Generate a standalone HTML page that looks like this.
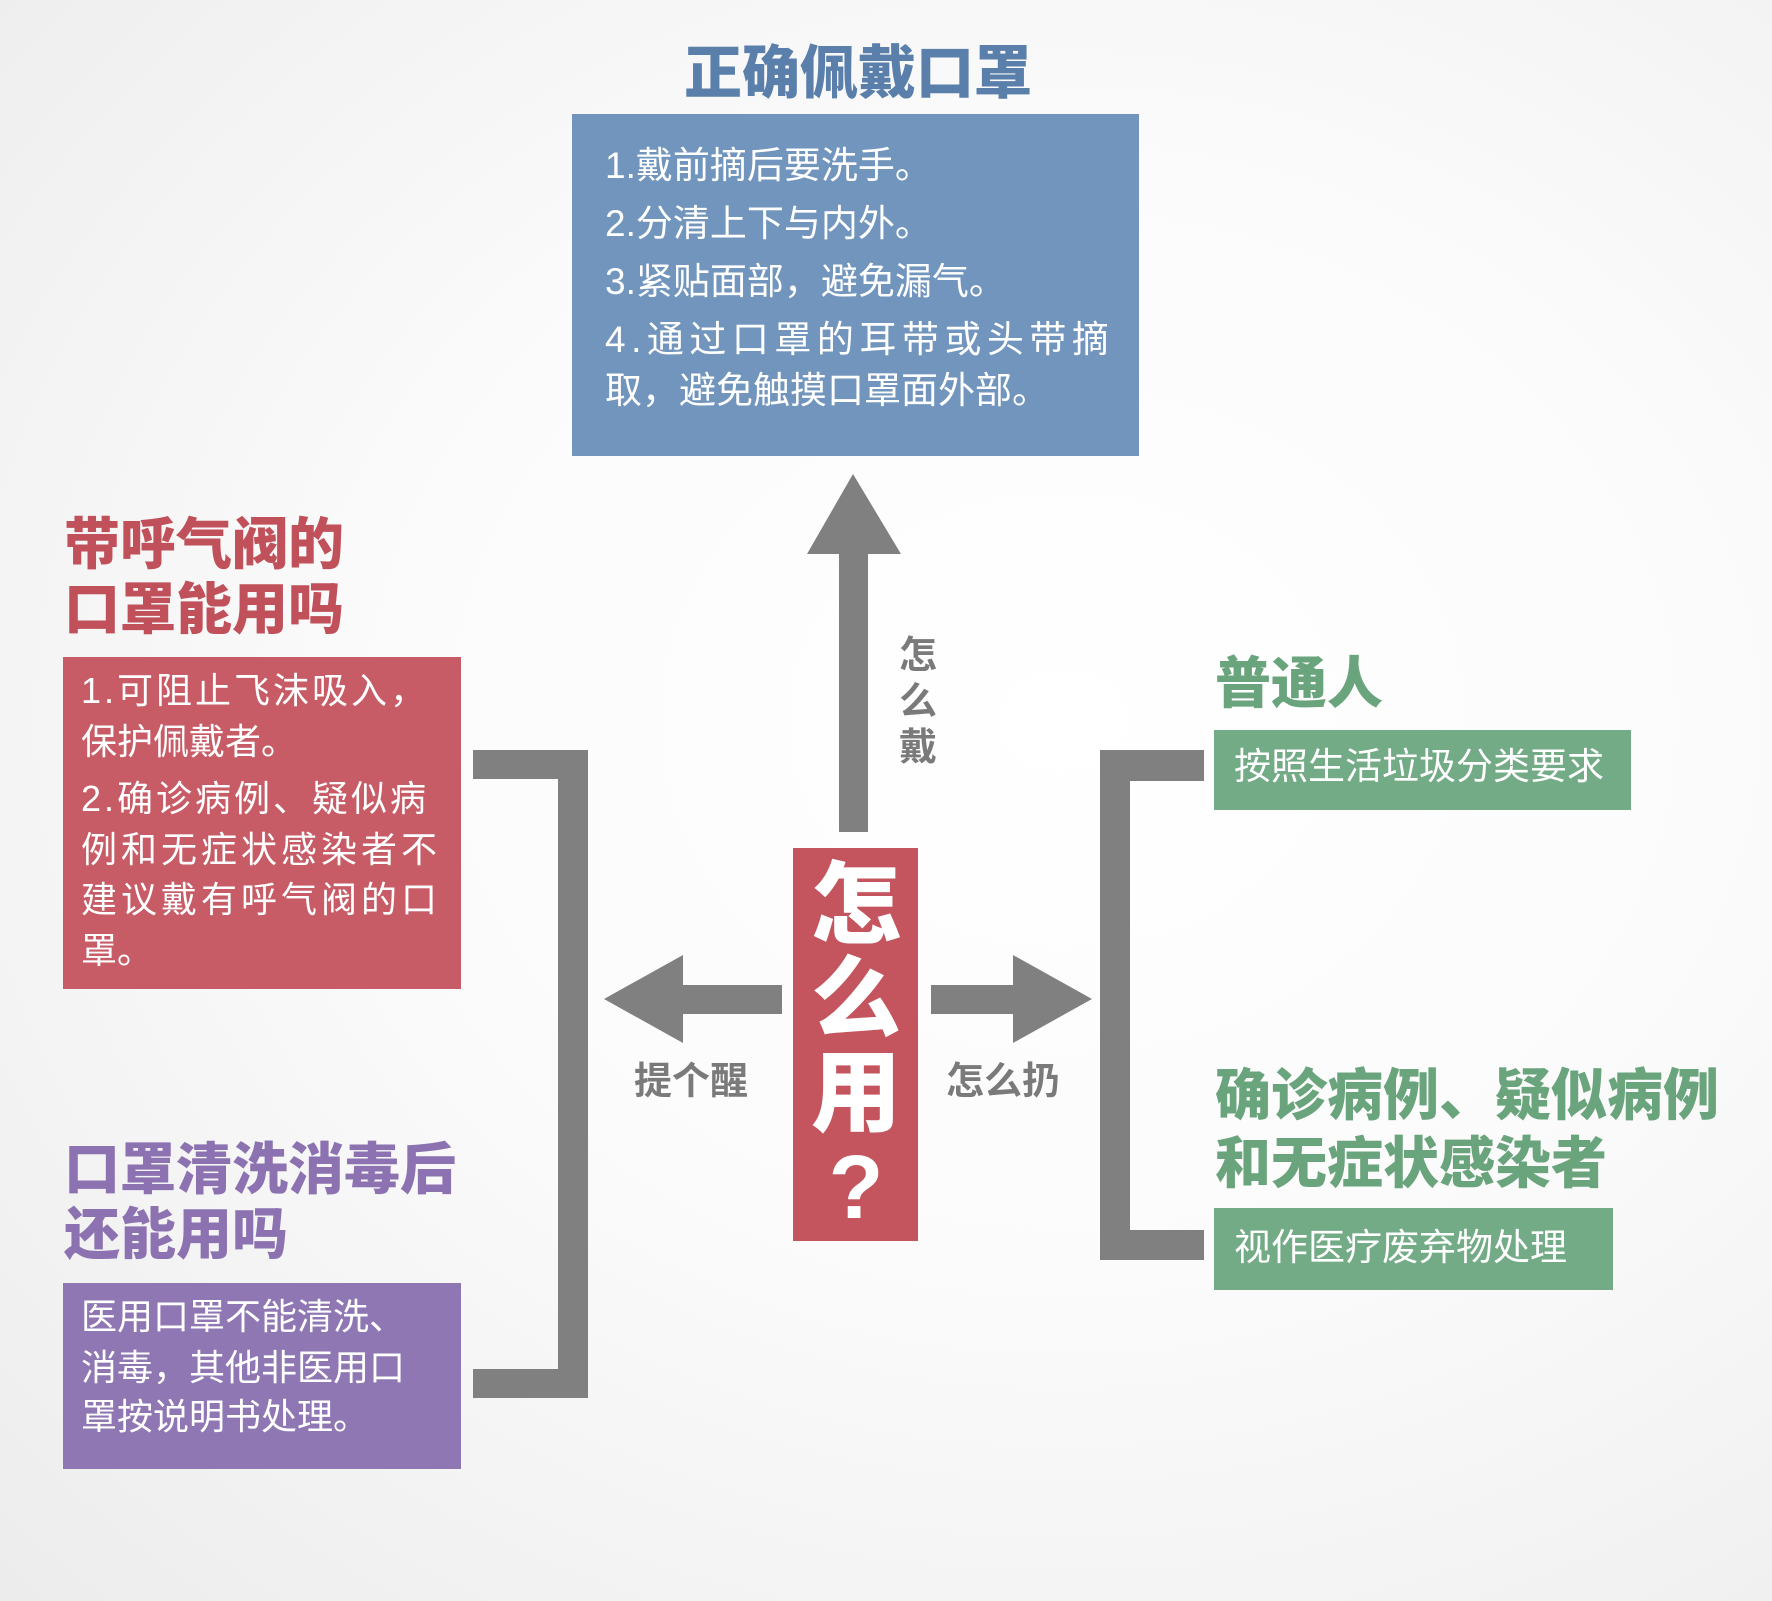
<!DOCTYPE html>
<html><head><meta charset="utf-8"><style>
html,body{margin:0;padding:0}
body{width:1772px;height:1601px;position:relative;overflow:hidden;
background:radial-gradient(ellipse at 60% 45%,#ffffff 0%,#fbfbfb 45%,#ececec 100%);
font-family:"Liberation Sans","Noto Sans CJK SC",sans-serif}
#wrap{position:absolute;left:-4px;top:-3px;width:1772px;height:1601px}
.a{position:absolute;white-space:nowrap;line-height:1}
.t{font-weight:900;font-size:56px}
.bx{position:absolute}
.w{color:#fff;font-size:36px}
.g{color:#7a7a7a;font-weight:700;font-size:38px}
</style></head><body><div id="wrap">
<svg class="bx" style="left:0;top:0" width="1772" height="1601">
<g fill="#808080">
<polygon points="857,477 811,557 843,557 843,835 872,835 872,557 905,557"/>
<polygon points="608,1002 687,958 687,988 786,988 786,1017 687,1017 687,1046"/>
<polygon points="1096,1002 1017,958 1017,988 935,988 935,1017 1017,1017 1017,1046"/>
<polygon points="477,753 592,753 592,1401 477,1401 477,1372 562,1372 562,782 477,782"/>
<polygon points="1208,753 1104,753 1104,1263 1208,1263 1208,1233 1134,1233 1134,784 1208,784"/>
</g></svg>

<div class="a t" style="left:688px;top:48px;color:#5b7fab;font-size:58px">正确佩戴口罩</div>
<div class="bx" style="left:576px;top:117px;width:567px;height:342px;background:#7195bc"></div>
<div class="a w" style="left:609px;top:150px;font-size:37px">1.戴前摘后要洗手。</div>
<div class="a w" style="left:609px;top:208px;font-size:37px">2.分清上下与内外。</div>
<div class="a w" style="left:609px;top:266px;font-size:37px">3.紧贴面部，避免漏气。</div>
<div class="a w" style="left:609px;top:324px;font-size:37px;letter-spacing:5.5px">4.通过口罩的耳带或头带摘</div>
<div class="a w" style="left:609px;top:375px;font-size:37px">取，避免触摸口罩面外部。</div>

<div class="a g" style="left:903px;top:636px;line-height:46px;white-space:normal;width:40px">怎<br>么<br>戴</div>

<div class="bx" style="left:797px;top:851px;width:125px;height:393px;background:#c4555e"></div>
<div class="a" style="left:814px;top:862px;width:92px;color:#fff;font-weight:900;font-size:90px;line-height:94px;white-space:normal;text-align:center">怎<br>么<br>用<br><span style="font-family:'Liberation Sans',sans-serif">?</span></div>

<div class="a g" style="left:638px;top:1066px">提个醒</div>
<div class="a g" style="left:950px;top:1066px">怎么扔</div>

<div class="a t" style="left:68px;top:520px;color:#c0515b">带呼气阀的</div>
<div class="a t" style="left:68px;top:585px;color:#c0515b">口罩能用吗</div>
<div class="bx" style="left:67px;top:660px;width:398px;height:332px;background:#c75c66"></div>
<div class="a w" style="left:85px;top:676px;letter-spacing:3px">1.可阻止飞沫吸入，</div>
<div class="a w" style="left:85px;top:727px">保护佩戴者。</div>
<div class="a w" style="left:85px;top:784px;letter-spacing:3px">2.确诊病例、疑似病</div>
<div class="a w" style="left:85px;top:835px;letter-spacing:4px">例和无症状感染者不</div>
<div class="a w" style="left:85px;top:885px;letter-spacing:4px">建议戴有呼气阀的口</div>
<div class="a w" style="left:85px;top:936px">罩。</div>

<div class="a t" style="left:68px;top:1145px;color:#8c72b1">口罩清洗消毒后</div>
<div class="a t" style="left:68px;top:1210px;color:#8c72b1">还能用吗</div>
<div class="bx" style="left:67px;top:1286px;width:398px;height:186px;background:#8e77b2"></div>
<div class="a w" style="left:85px;top:1302px">医用口罩不能清洗、</div>
<div class="a w" style="left:85px;top:1353px">消毒，其他非医用口</div>
<div class="a w" style="left:85px;top:1402px">罩按说明书处理。</div>

<div class="a t" style="left:1219px;top:659px;color:#6aa47c">普通人</div>
<div class="bx" style="left:1218px;top:733px;width:417px;height:80px;background:#72ab86"></div>
<div class="a w" style="left:1238px;top:751px;font-size:37px">按照生活垃圾分类要求</div>

<div class="a t" style="left:1219px;top:1071px;color:#6aa47c">确诊病例、疑似病例</div>
<div class="a t" style="left:1219px;top:1139px;color:#6aa47c">和无症状感染者</div>
<div class="bx" style="left:1218px;top:1211px;width:399px;height:82px;background:#72ab86"></div>
<div class="a w" style="left:1238px;top:1232px;font-size:37px">视作医疗废弃物处理</div>
</div></body></html>
